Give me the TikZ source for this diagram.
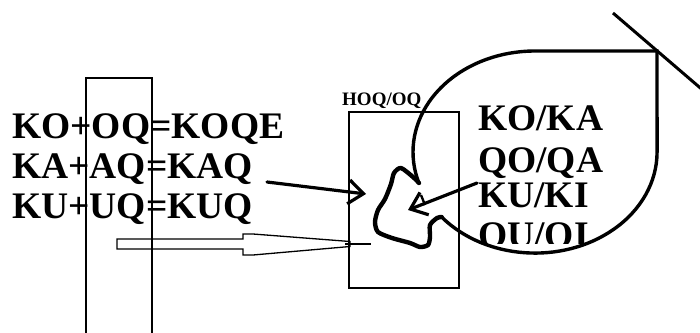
\documentclass[tikz,border=0pt]{standalone}
\usepackage{fontspec}
\setmainfont{Liberation Serif}
\usetikzlibrary{arrows.meta}
\tikzset{
  bigtxt/.style={font=\fontsize{37.5}{40}\bfseries\selectfont, inner sep=0pt, anchor=base west},
  smalltxt/.style={font=\fontsize{19}{22}\bfseries\selectfont, inner sep=0pt, anchor=base west},
  thinbox/.style={draw, line width=1.3pt},
  handline/.style={line width=3.2pt, line cap=round, line join=round},
  barbtip/.style={-{Straight Barb[length=15pt,width=24pt]}}
}

\begin{document}
\begin{tikzpicture}[x=1pt,y=-1pt]
      \useasboundingbox (0,0) rectangle (700,332);
      \clip (0,0) rectangle (700,332);
      % Sums on the left
      \node[bigtxt] (sumO) at (12,138) {KO+OQ=KOQE};
      \node[bigtxt] (sumA) at (12,178) {KA+AQ=KAQ};
      \node[bigtxt] (sumU) at (12,218) {KU+UQ=KUQ};
      \draw[thinbox] (86,78) rectangle (152,345);
      % Middle box
      \node[smalltxt] (hoq) at (342,105) {HOQ/OQ};
      \draw[thinbox] (349,112) rectangle (459,288);
      % Pairs inside the drop
      \begin{scope}
        \clip (470,90) rectangle (640,243);
        \node[bigtxt] (koka) at (478,130) {KO/KA};
        \node[bigtxt] (qoqa) at (478,172) {QO/QA};
        \node[bigtxt] (kuki) at (478,207) {KU/KI};
        \node[bigtxt] (quqi) at (478,247) {QU/QI};
      \end{scope}
      % Drop outline
      \coordinate (dropA) at (419,183);
      \coordinate (dropB) at (441.6,217);
      \coordinate (corner) at (657,51);
      \draw[line width=3.4pt, line join=miter]
        (dropB) arc[start angle=140, end angle=0, x radius=122, y radius=101]
        -- (corner) -- (535,51)
        arc[start angle=270, end angle=162.1, x radius=122, y radius=101];
      \draw[line width=4.4pt, line join=round, line cap=round]
        plot[smooth, tension=0.45] coordinates {(dropA) (413,177) (401,168) (394,173)
          (391,184) (385,199) (378,210) (375,222) (378,232) (392,238) (410,243)
          (420,247) (428,245) (430,237) (430,225) (437,218) (dropB)};
      % Cross line at the corner
      \coordinate (crossS) at (613,13);
      \coordinate (crossE) at (712,98);
      \draw[line width=3pt] (crossS) -- (crossE);
      % Arrows
      \coordinate (a1s) at (267,182);
      \coordinate (a1e) at (366,194);
      \draw[handline, barbtip] (a1s) -- (a1e);
      \coordinate (a2s) at (477,183);
      \coordinate (a2e) at (408,210);
      \draw[handline, barbtip] (a2s) -- (a2e);
      \draw[line width=2.4pt] (421,195) -- (425,205);
      % Hollow arrow
      \draw[line width=1.3pt, line join=miter]
        (117,239) -- (243,239) -- (243,234) -- (253,234) -- (350,241.5)
        -- (350,246.5) -- (253,255) -- (243,255) -- (243,249) -- (117,249) -- cycle;
      \coordinate (hollowS) at (345,244);
      \coordinate (hollowE) at (371,244);
      \draw[line width=2pt] (hollowS) -- (hollowE);
\end{tikzpicture}
\end{document}
